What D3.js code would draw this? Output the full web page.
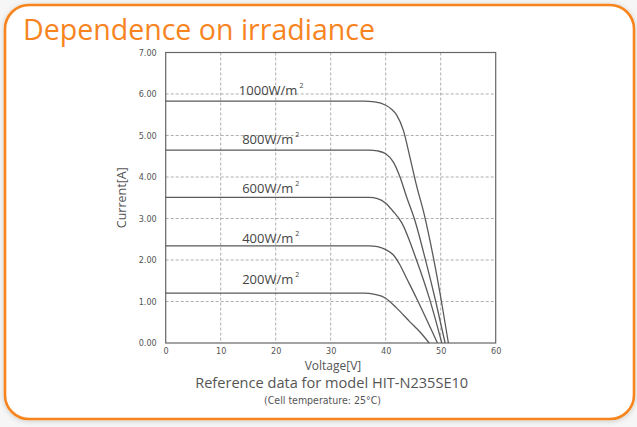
<!DOCTYPE html>
<html><head><meta charset="utf-8">
<script src="https://cdn.jsdelivr.net/npm/d3@7"></script>
<style>
html,body{margin:0;padding:0;background:#fff;}
svg{display:block;}
</style></head>
<body>
<svg id="chart" width="637" height="427"></svg>
<script>
// ---- data ----
const seriesNames = ["1000W/m", "800W/m", "600W/m", "400W/m", "200W/m"];
const labelCurrents = [5.97, 4.79, 3.61, 2.42, 1.42];
const v1000 = [0, 36, 38, 40, 41, 42, 43.2, 44.4, 45.6, 47.0, 48.7, 50.1, 51.4];
const i1000 = [5.83, 5.83, 5.81, 5.73, 5.64, 5.49, 5.13, 4.48, 3.80, 3.10, 2.04, 1.03, 0];
const v800 = [0, 37, 38.5, 40, 41.4, 42.6, 43.8, 45.2, 47.2, 49.1, 50.8];
const i800 = [4.65, 4.65, 4.63, 4.56, 4.36, 4.00, 3.52, 3.00, 2.02, 1.00, 0];
const v600 = [0, 37, 38.5, 40, 41.3, 42.9, 45.6, 48.0, 50.2];
const i600 = [3.51, 3.51, 3.48, 3.37, 3.18, 2.90, 2.00, 1.05, 0];
const v400 = [0, 37, 38.5, 40, 41.4, 42.6, 43.8, 45.6, 47.5, 49.4];
const i400 = [2.34, 2.34, 2.32, 2.25, 2.12, 1.88, 1.56, 1.08, 0.55, 0];
const v200 = [0, 36, 38, 40, 42, 44.4, 46.2, 47.9];
const i200 = [1.20, 1.20, 1.17, 1.08, 0.84, 0.51, 0.27, 0];
const xTicks = [0, 10, 20, 30, 40, 50, 60];
const yTicks = [0, 1, 2, 3, 4, 5, 6, 7];

const seriesV = [v1000, v800, v600, v400, v200];
const seriesI = [i1000, i800, i600, i400, i200];

// ---- layout ----
const svg = d3.select("#chart");
const defs = svg.append("defs");
const f = defs.append("filter").attr("id","sh").attr("x","-5%").attr("y","-5%").attr("width","110%").attr("height","110%");
f.append("feDropShadow").attr("dx",0).attr("dy",1).attr("stdDeviation",2.5).attr("flood-color","#000").attr("flood-opacity",0.18);

svg.append("rect").attr("x",0).attr("y",0).attr("width",637).attr("height",427).attr("fill","#f6f6f6");
svg.append("rect").attr("x",5).attr("y",5).attr("width",629).attr("height",414)
  .attr("rx",24).attr("ry",24).attr("fill","#fff").attr("stroke","#f7841f").attr("stroke-width",2.6)
  .attr("filter","url(#sh)");

svg.append("text").attr("x",23).attr("y",40)
  .attr("font-family","'Open Sans', sans-serif").attr("font-size",30)
  .attr("fill","#f7841f").attr("textLength",352).attr("lengthAdjust","spacingAndGlyphs")
  .text("Dependence on irradiance");

const x = d3.scaleLinear().domain([0,60]).range([165.7,495.7]);
const y = d3.scaleLinear().domain([0,7]).range([343,52.5]);

const g = svg.append("g");
const tickFont = "'Liberation Sans Narrow','DejaVu Sans Condensed',sans-serif";

// gridlines
g.append("g").selectAll("line").data(xTicks.filter(d=>d>0&&d<60)).join("line")
  .attr("x1",d=>x(d)).attr("x2",d=>x(d)).attr("y1",y(7)).attr("y2",y(0))
  .attr("stroke","#9a9a9a").attr("stroke-width",0.8).attr("stroke-dasharray","3,2");
g.append("g").selectAll("line").data(yTicks.filter(d=>d>0&&d<7)).join("line")
  .attr("x1",x(0)).attr("x2",x(60)).attr("y1",d=>y(d)).attr("y2",d=>y(d))
  .attr("stroke","#9a9a9a").attr("stroke-width",0.8).attr("stroke-dasharray","3,2");

// axes
const xAxis = d3.axisBottom(x).tickValues(xTicks).tickSize(0).tickPadding(5).tickFormat(d3.format("d"));
const yAxis = d3.axisLeft(y).tickValues(yTicks).tickSize(0).tickPadding(9).tickFormat(d3.format(".2f"));
const gx = g.append("g").attr("transform",`translate(0,${y(0)})`).call(xAxis);
const gy = g.append("g").attr("transform",`translate(${x(0)},0)`).call(yAxis);
[gx,gy].forEach(a=>{
  a.select(".domain").remove();
  a.selectAll("text").attr("font-family",tickFont).attr("font-size",9).attr("fill","#555");
});

// frame
g.append("rect").attr("x",x(0)).attr("y",y(7)).attr("width",x(60)-x(0)).attr("height",y(0)-y(7))
  .attr("fill","none").attr("stroke","#666").attr("stroke-width",1.2);

// curves
const line = d3.line().x(d=>x(d[0])).y(d=>y(d[1])).curve(d3.curveMonotoneX);
seriesV.forEach((vs,k)=>{
  const pts = vs.map((v,i)=>[v, seriesI[k][i]]);
  g.append("path").attr("d",line(pts)).attr("fill","none").attr("stroke","#5a5a5a").attr("stroke-width",1.3);
});

// labels
seriesNames.forEach((nm,k)=>{
  const t = g.append("text").attr("x",x(k===0?13.3:13.9)).attr("y",y(labelCurrents[k]))
    .attr("font-family","'Open Sans',sans-serif").attr("font-size",13).attr("fill","#444");
  t.append("tspan").text(nm);
  t.append("tspan").attr("dx",2).attr("dy",-7).attr("font-size",7).text("2");
});

// axis titles
g.append("text").attr("transform",`translate(126,${(y(0)+y(7))/2}) rotate(-90)`)
  .attr("text-anchor","middle").attr("font-family","'Open Sans',sans-serif").attr("font-size",12.5).attr("fill","#555")
  .text("Current[A]");
g.append("text").attr("x",333).attr("y",369.5).attr("text-anchor","middle")
  .attr("font-family","'Open Sans',sans-serif").attr("font-size",12).attr("fill","#555").text("Voltage[V]");
g.append("text").attr("x",331.7).attr("y",388).attr("text-anchor","middle")
  .attr("font-family","'Open Sans',sans-serif").attr("font-size",15).attr("fill","#555")
  .attr("textLength",273).attr("lengthAdjust","spacingAndGlyphs")
  .text("Reference data for model HIT-N235SE10");
g.append("text").attr("x",322.5).attr("y",404).attr("text-anchor","middle")
  .attr("font-family",tickFont).attr("font-size",10.5).attr("fill","#555")
  .text("(Cell temperature: 25°C)");
</script>
</body></html>
